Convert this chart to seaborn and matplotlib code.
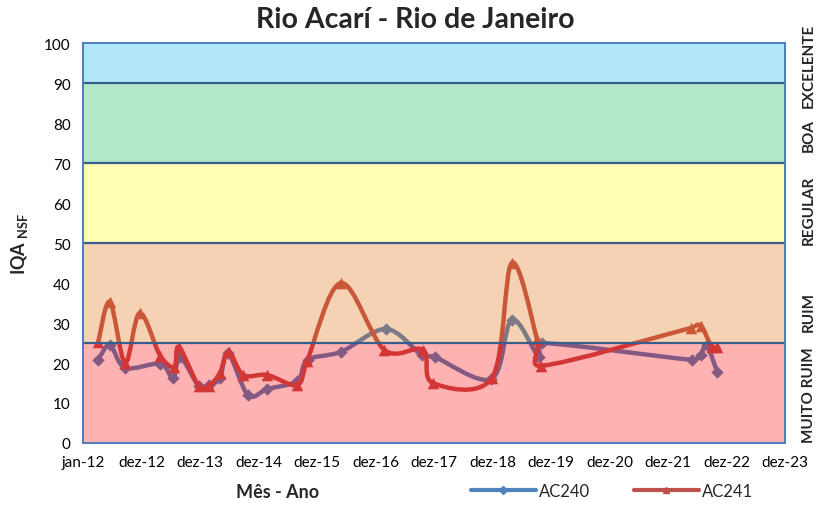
import numpy as np
import matplotlib
matplotlib.use("Agg")
import matplotlib.pyplot as plt
import seaborn as sns
from matplotlib.path import Path
from matplotlib.patches import PathPatch
from matplotlib.lines import Line2D
import matplotlib.transforms as mtransforms

# sampling dates (decimal years) and IQA values
ac240_x = [2012.26, 2012.46, 2012.72, 2013.32, 2013.54, 2013.66, 2013.98, 2014.15,
           2014.34, 2014.48, 2014.82, 2015.15, 2015.66, 2015.84, 2016.41, 2017.18,
           2017.79, 2018.01, 2018.98, 2019.33, 2019.79, 2019.84, 2022.41, 2022.56,
           2022.66, 2022.84]
ac240_y = [20.8, 24.5, 18.8, 19.8, 16.2, 21.5, 14.2, 14.5,
           16.2, 22.5, 12.0, 13.5, 15.5, 20.8, 22.8, 28.5,
           22.0, 21.5, 16.0, 30.8, 21.5, 25.0, 20.8, 22.0,
           24.5, 17.8]

ac241_x = [2012.26, 2012.46, 2012.72, 2012.97, 2013.32, 2013.56, 2013.64, 2013.98,
           2014.15, 2014.34, 2014.49, 2014.74, 2015.15, 2015.66, 2015.83, 2016.41,
           2017.15, 2017.81, 2017.98, 2018.99, 2019.33, 2019.76, 2019.83, 2022.40,
           2022.56, 2022.75, 2022.84]
ac241_y = [25.2, 35.3, 20.0, 32.5, 21.8, 19.0, 24.0, 14.2,
           14.2, 17.5, 22.8, 17.0, 17.0, 14.5, 20.5, 40.0,
           23.3, 23.3, 15.0, 16.3, 45.0, 26.0, 19.3, 28.8,
           29.3, 24.0, 24.0]

x_ticks = list(range(2012, 2025))
x_labels = ["jan-12", "dez-12", "dez-13", "dez-14", "dez-15", "dez-16", "dez-17",
            "dez-18", "dez-19", "dez-20", "dez-21", "dez-22", "dez-23"]

band_edges = [0, 25, 50, 70, 90, 100]
band_colors = ["#FF0000", "#E36C09", "#FFFF00", "#00B050", "#00B0F0"]
band_names = ["MUITO RUIM", "RUIM", "REGULAR", "BOA", "EXCELENTE"]
band_label_y = [12.3, 33, 58.5, 77, 94.5]


def smooth_path(x, y, sx=58.5, sy=4.0):
    # Excel-like smoothed line: cubic Bezier through the points
    P = np.column_stack([np.asarray(x) * sx, np.asarray(y) * sy])
    n = len(P)
    verts = [P[0]]
    codes = [Path.MOVETO]
    for i in range(n - 1):
        p0 = P[i - 1] if i > 0 else P[i]
        p1, p2 = P[i], P[i + 1]
        p3 = P[i + 2] if i + 2 < n else P[i + 1]
        seg = np.hypot(*(p2 - p1))
        d1 = (p2 - p0) / 6
        d2 = (p3 - p1) / 6
        for d in (d1, d2):
            m = np.hypot(*d)
            if m > seg / 2 and m > 0:
                d *= (seg / 2) / m
        verts += [p1 + d1, p2 - d2, p2]
        codes += [Path.CURVE4] * 3
    verts = np.array(verts) / [sx, sy]
    return Path(verts, codes)


sns.set_style("white")
plt.rcParams["font.family"] = ["Lato", "DejaVu Sans"]
plt.rcParams["mathtext.fontset"] = "custom"
plt.rcParams["mathtext.bf"] = "Lato:bold"

fig = plt.figure(figsize=(8.17, 5.06), dpi=100)
ax = fig.add_axes([83 / 817, 62 / 506, 702 / 817, 400 / 506])

blue = "#4F81BD"
red = "#C0504D"

# series (drawn under the translucent quality bands)
ax.add_patch(PathPatch(smooth_path(ac240_x, ac240_y), fill=False, edgecolor=blue,
                       lw=3.2, capstyle="round", joinstyle="round", zorder=2))
sns.scatterplot(x=ac240_x, y=ac240_y, marker="D", s=40, color=blue, edgecolor=blue,
                linewidth=0, ax=ax, zorder=2.1, legend=False)
ax.add_patch(PathPatch(smooth_path(ac241_x, ac241_y), fill=False, edgecolor=red,
                       lw=3.2, capstyle="round", joinstyle="round", zorder=2.2))
sns.scatterplot(x=ac241_x, y=ac241_y, marker="^", s=70, color=red, edgecolor=red,
                linewidth=0, ax=ax, zorder=2.3, legend=False)

for lo, hi, c in zip(band_edges[:-1], band_edges[1:], band_colors):
    ax.axhspan(lo, hi, color=c, alpha=0.3, lw=0, zorder=3)
for e in band_edges[1:-1]:
    ax.axhline(e, color="#385D8A", lw=1.6, zorder=4)

ax.set_xlim(2012, 2024)
ax.set_ylim(0, 100)
ax.set_xticks(x_ticks)
ax.set_xticklabels(x_labels)
ax.set_yticks(range(0, 101, 10))
ax.tick_params(axis="both", direction="out", length=5, width=1, color="#868686",
               labelsize=11, labelcolor="black", pad=4)
for s in ax.spines.values():
    s.set_color("#4A7EBB")
    s.set_linewidth(1.4)
    s.set_zorder(5)

ax.set_ylabel(r"IQA $_{\mathbf{NSF}}$", fontsize=13, fontweight="bold", labelpad=10)
ax.set_xlabel("Mês - Ano", fontsize=13, fontweight="bold")
ax.xaxis.set_label_coords(195 / 702, -0.1)

fig.text(415 / 817, 1 - 20 / 506, "Rio Acarí - Rio de Janeiro", ha="center",
         va="center", fontsize=20.5, fontweight="bold")

trans = mtransforms.blended_transform_factory(fig.transFigure, ax.transData)
for name, yv in zip(band_names, band_label_y):
    ax.text(809 / 817, yv, name, transform=trans, rotation=90, ha="center",
            va="center", fontsize=11, fontweight="bold", clip_on=False)

handles = [Line2D([], [], color=blue, lw=3.0, marker="D", markersize=4),
           Line2D([], [], color=red, lw=3.0, marker="^", markersize=5)]
fig.legend(handles, ["AC240", "AC241"], loc="center", ncol=2, frameon=False,
           bbox_to_anchor=(612 / 817, 1 - 492 / 506), fontsize=12,
           handlelength=3.9, handletextpad=0.2, columnspacing=2.6)

fig.savefig("out.png", dpi=100)
